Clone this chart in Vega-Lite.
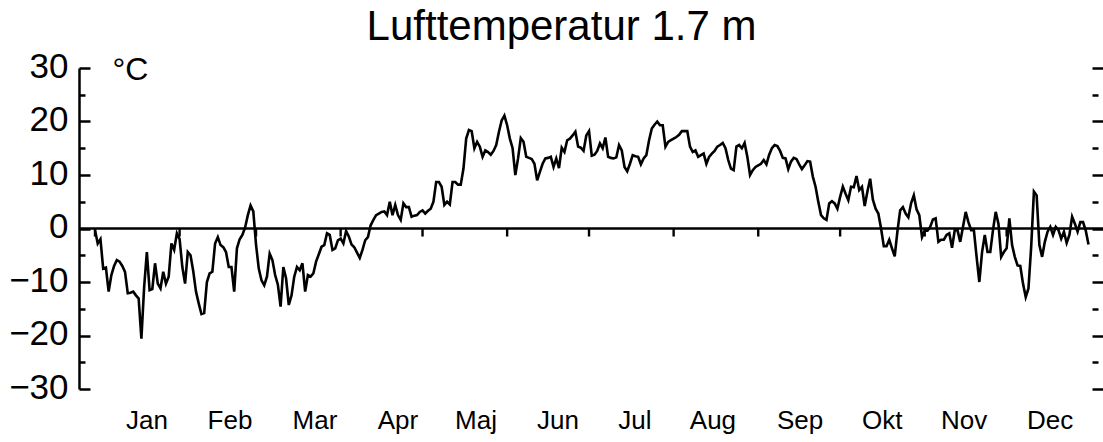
{
  "$schema": "https://vega.github.io/schema/vega-lite/v6.json",
  "width": 1013,
  "height": 321,
  "autosize": "none",
  "padding": {"left": 79, "top": 68, "right": 11, "bottom": 53},
  "background": "white",
  "config": {"view": {"stroke": null}},
  "title": {
    "text": "Lufttemperatur 1.7 m",
    "font": "Liberation Sans",
    "fontSize": 42,
    "fontWeight": "normal",
    "color": "black",
    "anchor": "middle",
    "baseline": "alphabetic",
    "offset": 5,
    "dy": 38,
    "dx": -24
  },
  "layer": [
    {
      "data": {"values": [
        {"day":1,"temp":-0.3},{"day":2,"temp":-2.8},{"day":3,"temp":-2.0},{"day":4,"temp":-7.5},{"day":5,"temp":-7.3},{"day":6,"temp":-11.8},{"day":7,"temp":-8.7},{"day":8,"temp":-7.0},{"day":9,"temp":-5.9},{"day":10,"temp":-6.2},
        {"day":11,"temp":-7.0},{"day":12,"temp":-8.1},{"day":13,"temp":-12.1},{"day":14,"temp":-12.0},{"day":15,"temp":-11.8},{"day":16,"temp":-12.5},{"day":17,"temp":-13.1},{"day":18,"temp":-20.6},{"day":19,"temp":-11.0},{"day":20,"temp":-4.4},
        {"day":21,"temp":-11.5},{"day":22,"temp":-11.3},{"day":23,"temp":-6.5},{"day":24,"temp":-10.3},{"day":25,"temp":-11.2},{"day":26,"temp":-8.1},{"day":27,"temp":-10.3},{"day":28,"temp":-9.0},{"day":29,"temp":-2.8},{"day":30,"temp":-4.0},
        {"day":31,"temp":-0.9},{"day":32,"temp":-2.0},{"day":33,"temp":-7.2},{"day":34,"temp":-10.3},{"day":35,"temp":-4.4},{"day":36,"temp":-5.0},{"day":37,"temp":-8.0},{"day":38,"temp":-11.8},{"day":39,"temp":-14.0},{"day":40,"temp":-16.0},
        {"day":41,"temp":-15.8},{"day":42,"temp":-10.0},{"day":43,"temp":-8.4},{"day":44,"temp":-8.1},{"day":45,"temp":-2.8},{"day":46,"temp":-1.6},{"day":47,"temp":-3.1},{"day":48,"temp":-3.5},{"day":49,"temp":-4.4},{"day":50,"temp":-7.2},
        {"day":51,"temp":-7.2},{"day":52,"temp":-11.8},{"day":53,"temp":-3.7},{"day":54,"temp":-2.0},{"day":55,"temp":-1.2},{"day":56,"temp":0.2},{"day":57,"temp":2.5},{"day":58,"temp":4.3},{"day":59,"temp":3.2},{"day":60,"temp":-3.0},
        {"day":61,"temp":-7.5},{"day":62,"temp":-9.7},{"day":63,"temp":-10.6},{"day":64,"temp":-9.0},{"day":65,"temp":-4.7},{"day":66,"temp":-5.9},{"day":67,"temp":-8.7},{"day":68,"temp":-10.5},{"day":69,"temp":-14.6},{"day":70,"temp":-7.2},
        {"day":71,"temp":-9.3},{"day":72,"temp":-14.3},{"day":73,"temp":-12.5},{"day":74,"temp":-9.0},{"day":75,"temp":-7.2},{"day":76,"temp":-7.8},{"day":77,"temp":-6.5},{"day":78,"temp":-11.8},{"day":79,"temp":-8.7},{"day":80,"temp":-9.0},
        {"day":81,"temp":-8.4},{"day":82,"temp":-6.2},{"day":83,"temp":-4.8},{"day":84,"temp":-3.4},{"day":85,"temp":-3.1},{"day":86,"temp":-0.9},{"day":87,"temp":-1.2},{"day":88,"temp":-4.0},{"day":89,"temp":-3.7},{"day":90,"temp":-2.2},
        {"day":91,"temp":-1.9},{"day":92,"temp":-2.8},{"day":93,"temp":-0.5},{"day":94,"temp":-1.5},{"day":95,"temp":-3.0},{"day":96,"temp":-3.5},{"day":97,"temp":-4.5},{"day":98,"temp":-5.5},{"day":99,"temp":-4.0},{"day":100,"temp":-2.2},
        {"day":101,"temp":-1.6},{"day":102,"temp":0.6},{"day":103,"temp":1.6},{"day":104,"temp":2.5},{"day":105,"temp":2.8},{"day":106,"temp":3.1},{"day":107,"temp":3.2},{"day":108,"temp":2.5},{"day":109,"temp":5.0},{"day":110,"temp":2.5},
        {"day":111,"temp":4.4},{"day":112,"temp":2.5},{"day":113,"temp":1.6},{"day":114,"temp":4.7},{"day":115,"temp":4.0},{"day":116,"temp":4.0},{"day":117,"temp":2.2},{"day":118,"temp":2.4},{"day":119,"temp":2.5},{"day":120,"temp":3.1},
        {"day":121,"temp":3.4},{"day":122,"temp":2.8},{"day":123,"temp":3.3},{"day":124,"temp":3.7},{"day":125,"temp":5.0},{"day":126,"temp":8.7},{"day":127,"temp":8.7},{"day":128,"temp":7.8},{"day":129,"temp":4.4},{"day":130,"temp":5.0},
        {"day":131,"temp":4.5},{"day":132,"temp":8.7},{"day":133,"temp":8.7},{"day":134,"temp":8.2},{"day":135,"temp":8.2},{"day":136,"temp":11.2},{"day":137,"temp":16.8},{"day":138,"temp":18.4},{"day":139,"temp":18.2},{"day":140,"temp":15.0},
        {"day":141,"temp":16.2},{"day":142,"temp":15.3},{"day":143,"temp":13.4},{"day":144,"temp":14.6},{"day":145,"temp":14.3},{"day":146,"temp":13.8},{"day":147,"temp":14.5},{"day":148,"temp":15.6},{"day":149,"temp":18.1},{"day":150,"temp":20.2},
        {"day":151,"temp":21.1},{"day":152,"temp":19.3},{"day":153,"temp":16.8},{"day":154,"temp":15.0},{"day":155,"temp":10.0},{"day":156,"temp":13.1},{"day":157,"temp":16.9},{"day":158,"temp":16.2},{"day":159,"temp":13.4},{"day":160,"temp":13.2},
        {"day":161,"temp":13.0},{"day":162,"temp":12.1},{"day":163,"temp":9.0},{"day":164,"temp":10.6},{"day":165,"temp":12.1},{"day":166,"temp":13.1},{"day":167,"temp":13.2},{"day":168,"temp":13.4},{"day":169,"temp":11.5},{"day":170,"temp":13.1},
        {"day":171,"temp":11.3},{"day":172,"temp":15.1},{"day":173,"temp":14.3},{"day":174,"temp":16.5},{"day":175,"temp":16.8},{"day":176,"temp":17.4},{"day":177,"temp":18.1},{"day":178,"temp":15.3},{"day":179,"temp":15.1},{"day":180,"temp":14.5},
        {"day":181,"temp":17.4},{"day":182,"temp":18.2},{"day":183,"temp":13.6},{"day":184,"temp":13.8},{"day":185,"temp":14.5},{"day":186,"temp":15.9},{"day":187,"temp":15.0},{"day":188,"temp":17.0},{"day":189,"temp":13.4},{"day":190,"temp":13.2},
        {"day":191,"temp":13.1},{"day":192,"temp":13.3},{"day":193,"temp":15.6},{"day":194,"temp":14.6},{"day":195,"temp":11.5},{"day":196,"temp":10.7},{"day":197,"temp":12.1},{"day":198,"temp":13.7},{"day":199,"temp":13.5},{"day":200,"temp":13.4},
        {"day":201,"temp":12.0},{"day":202,"temp":13.1},{"day":203,"temp":13.7},{"day":204,"temp":16.5},{"day":205,"temp":18.7},{"day":206,"temp":19.4},{"day":207,"temp":20.0},{"day":208,"temp":19.3},{"day":209,"temp":19.3},{"day":210,"temp":15.3},
        {"day":211,"temp":16.2},{"day":212,"temp":16.5},{"day":213,"temp":16.8},{"day":214,"temp":17.1},{"day":215,"temp":17.5},{"day":216,"temp":18.2},{"day":217,"temp":18.2},{"day":218,"temp":18.2},{"day":219,"temp":15.3},{"day":220,"temp":14.3},
        {"day":221,"temp":14.6},{"day":222,"temp":13.4},{"day":223,"temp":13.7},{"day":224,"temp":14.0},{"day":225,"temp":12.1},{"day":226,"temp":13.4},{"day":227,"temp":14.0},{"day":228,"temp":14.5},{"day":229,"temp":15.3},{"day":230,"temp":15.6},
        {"day":231,"temp":16.0},{"day":232,"temp":15.0},{"day":233,"temp":12.8},{"day":234,"temp":11.2},{"day":235,"temp":10.9},{"day":236,"temp":15.3},{"day":237,"temp":15.6},{"day":238,"temp":15.0},{"day":239,"temp":16.0},{"day":240,"temp":13.4},
        {"day":241,"temp":10.0},{"day":242,"temp":10.9},{"day":243,"temp":11.5},{"day":244,"temp":11.8},{"day":245,"temp":12.1},{"day":246,"temp":12.8},{"day":247,"temp":12.0},{"day":248,"temp":13.8},{"day":249,"temp":15.0},{"day":250,"temp":15.6},
        {"day":251,"temp":15.4},{"day":252,"temp":14.5},{"day":253,"temp":13.2},{"day":254,"temp":13.1},{"day":255,"temp":11.1},{"day":256,"temp":12.5},{"day":257,"temp":13.2},{"day":258,"temp":13.0},{"day":259,"temp":12.0},{"day":260,"temp":11.1},
        {"day":261,"temp":11.8},{"day":262,"temp":12.6},{"day":263,"temp":12.5},{"day":264,"temp":9.7},{"day":265,"temp":7.8},{"day":266,"temp":5.0},{"day":267,"temp":2.5},{"day":268,"temp":1.9},{"day":269,"temp":1.6},{"day":270,"temp":4.7},
        {"day":271,"temp":5.1},{"day":272,"temp":4.7},{"day":273,"temp":3.7},{"day":274,"temp":5.9},{"day":275,"temp":7.8},{"day":276,"temp":6.5},{"day":277,"temp":5.3},{"day":278,"temp":7.8},{"day":279,"temp":7.7},{"day":280,"temp":9.8},
        {"day":281,"temp":7.2},{"day":282,"temp":7.8},{"day":283,"temp":4.2},{"day":284,"temp":6.9},{"day":285,"temp":9.3},{"day":286,"temp":5.4},{"day":287,"temp":3.7},{"day":288,"temp":2.8},{"day":289,"temp":0.0},{"day":290,"temp":-3.3},
        {"day":291,"temp":-3.3},{"day":292,"temp":-2.1},{"day":293,"temp":-3.7},{"day":294,"temp":-5.2},{"day":295,"temp":-0.5},{"day":296,"temp":3.4},{"day":297,"temp":4.0},{"day":298,"temp":2.8},{"day":299,"temp":2.1},{"day":300,"temp":4.7},
        {"day":301,"temp":6.2},{"day":302,"temp":3.6},{"day":303,"temp":2.5},{"day":304,"temp":-1.6},{"day":305,"temp":-0.4},{"day":306,"temp":-0.4},{"day":307,"temp":0.3},{"day":308,"temp":1.7},{"day":309,"temp":1.9},{"day":310,"temp":-2.5},
        {"day":311,"temp":-2.1},{"day":312,"temp":-2.1},{"day":313,"temp":-1.2},{"day":314,"temp":-0.9},{"day":315,"temp":-3.6},{"day":316,"temp":-0.3},{"day":317,"temp":-0.3},{"day":318,"temp":-2.5},{"day":319,"temp":0.3},{"day":320,"temp":3.1},
        {"day":321,"temp":1.2},{"day":322,"temp":-0.3},{"day":323,"temp":-0.3},{"day":324,"temp":-5.3},{"day":325,"temp":-10.0},{"day":326,"temp":-4.4},{"day":327,"temp":-1.2},{"day":328,"temp":-4.4},{"day":329,"temp":-4.4},{"day":330,"temp":-0.3},
        {"day":331,"temp":3.1},{"day":332,"temp":0.9},{"day":333,"temp":-5.3},{"day":334,"temp":-4.4},{"day":335,"temp":-3.7},{"day":336,"temp":1.9},{"day":337,"temp":-3.1},{"day":338,"temp":-5.3},{"day":339,"temp":-6.9},{"day":340,"temp":-7.0},
        {"day":341,"temp":-10.3},{"day":342,"temp":-12.8},{"day":343,"temp":-11.2},{"day":344,"temp":-3.4},{"day":345,"temp":6.9},{"day":346,"temp":6.2},{"day":347,"temp":-3.1},{"day":348,"temp":-5.3},{"day":349,"temp":-2.5},{"day":350,"temp":-0.6},
        {"day":351,"temp":0.3},{"day":352,"temp":-1.2},{"day":353,"temp":0.3},{"day":354,"temp":-0.3},{"day":355,"temp":-1.9},{"day":356,"temp":-0.6},{"day":357,"temp":-2.7},{"day":358,"temp":-1.2},{"day":359,"temp":2.2},{"day":360,"temp":0.9},
        {"day":361,"temp":-0.6},{"day":362,"temp":1.2},{"day":363,"temp":1.2},{"day":364,"temp":-0.4},{"day":365,"temp":-3.0}
      ]},
      "mark": {"type": "line", "color": "black", "strokeWidth": 2.6, "strokeJoin": "miter"},
      "encoding": {
        "x": {
          "field": "day", "type": "quantitative",
          "scale": {"domain": [-4.86, 366.28], "nice": false, "zero": false},
          "axis": null
        },
        "y": {
          "field": "temp", "type": "quantitative",
          "scale": {"domain": [-30, 30], "nice": false, "zero": false},
          "axis": {
            "orient": "left",
            "values": [-30, -25, -20, -15, -10, -5, 0, 5, 10, 15, 20, 25, 30],
            "labelExpr": "datum.value % 10 === 0 ? datum.label : ''",
            "tickSize": {"condition": {"test": "datum.value % 10 === 0", "value": -11}, "value": -6},
            "tickWidth": 2.5, "tickColor": "black",
            "domainColor": "black", "domainWidth": 2.5,
            "grid": false,
            "labelFont": "Liberation Sans", "labelFontSize": 35, "labelColor": "black",
            "labelPadding": 22, "labelFlush": false, "labelOverlap": false, "labelOffset": -2,
            "title": "°C", "titleAngle": 0, "titleFont": "Liberation Sans", "titleFontSize": 32,
            "titleFontWeight": "normal", "titleColor": "black", "titleAlign": "center", "titleBaseline": "alphabetic",
            "titleX": 51, "titleY": 11
          }
        }
      }
    },
    {
      "data": {"values": [{}]},
      "mark": {"type": "rule", "color": "black", "strokeWidth": 2.4},
      "encoding": {
        "x": {"datum": -4.86, "type": "quantitative", "scale": {"domain": [-4.86, 366.28], "nice": false, "zero": false}, "axis": null},
        "x2": {"datum": 370.3},
        "y": {"datum": 0, "type": "quantitative", "scale": {"domain": [-30, 30], "nice": false, "zero": false}, "axis": null}
      }
    },
    {
      "data": {"values": [{"day": 1}, {"day": 32}, {"day": 60}, {"day": 91}, {"day": 121}, {"day": 152}, {"day": 182}, {"day": 213}, {"day": 244}, {"day": 274}, {"day": 305}, {"day": 335}]},
      "mark": {"type": "rule", "color": "black", "strokeWidth": 2.4},
      "encoding": {
        "x": {"field": "day", "type": "quantitative", "scale": {"domain": [-4.86, 366.28], "nice": false, "zero": false}, "axis": null},
        "y": {
          "datum": 0, "type": "quantitative",
          "scale": {"domain": [-30, 30], "nice": false, "zero": false},
          "axis": {
            "orient": "right",
            "values": [-30, -25, -20, -15, -10, -5, 0, 5, 10, 15, 20, 25, 30],
            "labels": false, "domain": false, "grid": false, "title": null,
            "tickSize": {"condition": {"test": "datum.value % 10 === 0", "value": 11}, "value": 6},
            "tickWidth": 2.5, "tickColor": "black"
          }
        },
        "y2": {"datum": -1.5}
      }
    },
    {
      "data": {"values": [
        {"month": "Jan", "mid": 20.05}, {"month": "Feb", "mid": 50.46}, {"month": "Mar", "mid": 81.6}, {"month": "Apr", "mid": 112.0},
        {"month": "Maj", "mid": 140.6}, {"month": "Jun", "mid": 170.6}, {"month": "Jul", "mid": 198.8}, {"month": "Aug", "mid": 227.4},
        {"month": "Sep", "mid": 259.3}, {"month": "Okt", "mid": 289.4}, {"month": "Nov", "mid": 319.4}, {"month": "Dec", "mid": 350.9}
      ]},
      "mark": {"type": "text", "font": "Liberation Sans", "fontSize": 26, "color": "black", "align": "center", "baseline": "alphabetic", "dy": 40},
      "encoding": {
        "x": {"field": "mid", "type": "quantitative", "scale": {"domain": [-4.86, 366.28], "nice": false, "zero": false}, "axis": null},
        "y": {"datum": -30, "type": "quantitative", "scale": {"domain": [-30, 30], "nice": false, "zero": false}, "axis": null},
        "text": {"field": "month"}
      }
    }
  ],
  "resolve": {"axis": {"y": "independent"}}
}
